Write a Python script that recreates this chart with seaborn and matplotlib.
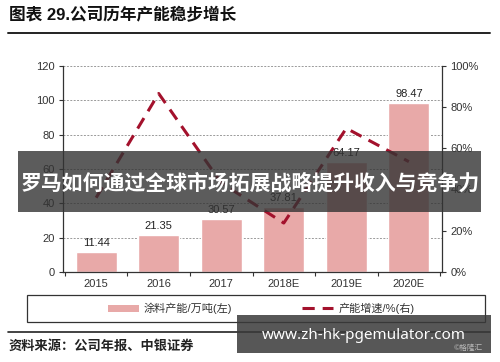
import matplotlib
matplotlib.use("Agg")
import matplotlib.pyplot as plt
import seaborn as sns
import pandas as pd
from matplotlib.patches import Patch, Rectangle
from matplotlib.lines import Line2D
from matplotlib.ticker import PercentFormatter, FixedLocator

years = ["2015", "2016", "2017", "2018E", "2019E", "2020E"]
capacity = [11.44, 21.35, 30.57, 37.81, 64.17, 98.47]
growth = [0.36, 0.866, 0.432, 0.237, 0.697, 0.535]

title_text = "图表 29.公司历年产能稳步增长"
source_text = "资料来源：公司年报、中银证券"
legend_bar = "涂料产能/万吨(左)"
legend_line = "产能增速/%(右)"
banner_text = "罗马如何通过全球市场拓展战略提升收入与竞争力"
watermark_text = "www.zh-hk-pgemulator.com"

BAR = "#e8a9a8"
LINE = "#a3112c"
DARK = "#333333"

sns.set_theme(style="white")
plt.rcParams["font.family"] = ["Liberation Sans", "Noto Sans CJK SC", "DejaVu Sans"]

df = pd.DataFrame({"year": years, "capacity": capacity, "growth": growth})

fig = plt.figure(figsize=(5, 3.62), dpi=100)
ax = fig.add_axes([0.126, 0.249, 0.758, 0.569])

sns.barplot(data=df, x="year", y="capacity", color=BAR, saturation=1,
            width=0.66, ax=ax, zorder=2)
ax.set_ylim(0, 120)
ax.set_xlim(-0.53, 5.53)
ax.set_yticks(range(0, 121, 20))
ax.yaxis.grid(True, linestyle=(0, (2, 1.5)), color="#9a9a9a", lw=0.7, zorder=0)
ax.set_axisbelow(True)
ax.bar_label(ax.containers[0], fmt="%.2f", padding=3, fontsize=8, color="#222222")
ax.set_xlabel("")
ax.set_ylabel("")
ax.tick_params(axis="y", left=True, length=3, width=0.8, color=DARK,
               labelsize=8, labelcolor=DARK, pad=3)
ax.tick_params(axis="x", which="major", length=0, labelsize=8, labelcolor=DARK, pad=5)
ax.xaxis.set_minor_locator(FixedLocator([i - 0.5 for i in range(len(years) + 1)]))
ax.tick_params(axis="x", which="minor", bottom=True, length=3, width=0.8, color=DARK)
for s in ["top", "right"]:
    ax.spines[s].set_visible(False)
for s in ["left", "bottom"]:
    ax.spines[s].set_color(DARK)
    ax.spines[s].set_linewidth(0.9)

ax2 = ax.twinx()
sns.lineplot(data=df, x="year", y="growth", ax=ax2, color=LINE, lw=2.2,
             linestyle=(0, (4, 2.6)), zorder=3)
ax2.set_ylim(0, 1.0)
ax2.set_xlim(-0.53, 5.53)
ax2.set_yticks([0, 0.2, 0.4, 0.6, 0.8, 1.0])
ax2.yaxis.set_major_formatter(PercentFormatter(1.0, decimals=0))
ax2.set_ylabel("")
ax2.set_xlabel("")
ax2.tick_params(axis="y", right=True, length=3, width=0.8, color=DARK,
                labelsize=8, labelcolor=DARK, pad=3)
for s in ["top", "left", "bottom"]:
    ax2.spines[s].set_visible(False)
ax2.spines["right"].set_color(DARK)
ax2.spines["right"].set_linewidth(0.9)

# legend
handles = [Patch(facecolor=BAR, edgecolor="none"),
           Line2D([0], [0], color=LINE, lw=2.2, linestyle=(0, (4, 2.6)))]
fig.patches.append(Rectangle((0.054, 0.110), 0.916, 0.075, transform=fig.transFigure,
                             facecolor="white", edgecolor=DARK, lw=0.9, zorder=1))
leg = fig.legend(handles, [legend_bar, legend_line], loc="center",
                 bbox_to_anchor=(0.522, 0.148), ncol=2, frameon=False,
                 fontsize=8, handlelength=2.8, handleheight=0.6,
                 handletextpad=0.45, columnspacing=6.3)
for t in leg.get_texts():
    t.set_color(DARK)

# title and source
fig.text(0.018, 0.957, title_text, fontsize=12, fontweight="bold", color="#111111",
         va="center", ha="left")
fig.add_artist(Line2D([0.016, 0.98], [0.909, 0.909], transform=fig.transFigure,
                      color="#222222", lw=1.4))
fig.add_artist(Line2D([0.016, 0.98], [0.083, 0.083], transform=fig.transFigure,
                      color="#222222", lw=1.2))
fig.text(0.018, 0.044, source_text, fontsize=9.5, fontweight="bold", color="#222222",
         va="center", ha="left")

# overlay banner
fig.patches.append(Rectangle((0.036, 0.414), 0.925, 0.168, transform=fig.transFigure,
                             facecolor="#333333", alpha=0.8, edgecolor="none", zorder=10))
fig.text(0.5, 0.495, banner_text, fontsize=15, fontweight="bold", color="white",
         ha="center", va="center", zorder=11,
         family=["Noto Sans CJK SC", "DejaVu Sans"])

# watermark
fig.patches.append(Rectangle((0.474, 0.025), 0.508, 0.105, transform=fig.transFigure,
                             facecolor="#3a3a3a", alpha=0.85, edgecolor="none", zorder=10))
fig.text(0.727, 0.072, watermark_text, fontsize=11, fontweight="bold", color="white",
         ha="center", va="center", zorder=11, family=["Noto Sans", "DejaVu Sans"])
fig.text(0.965, 0.04, "©格隆汇", fontsize=5.5, color="#bbbbbb", ha="right",
         va="center", zorder=12, family=["Noto Sans CJK SC", "DejaVu Sans"])

fig.savefig("out.png", dpi=100, facecolor="white")
